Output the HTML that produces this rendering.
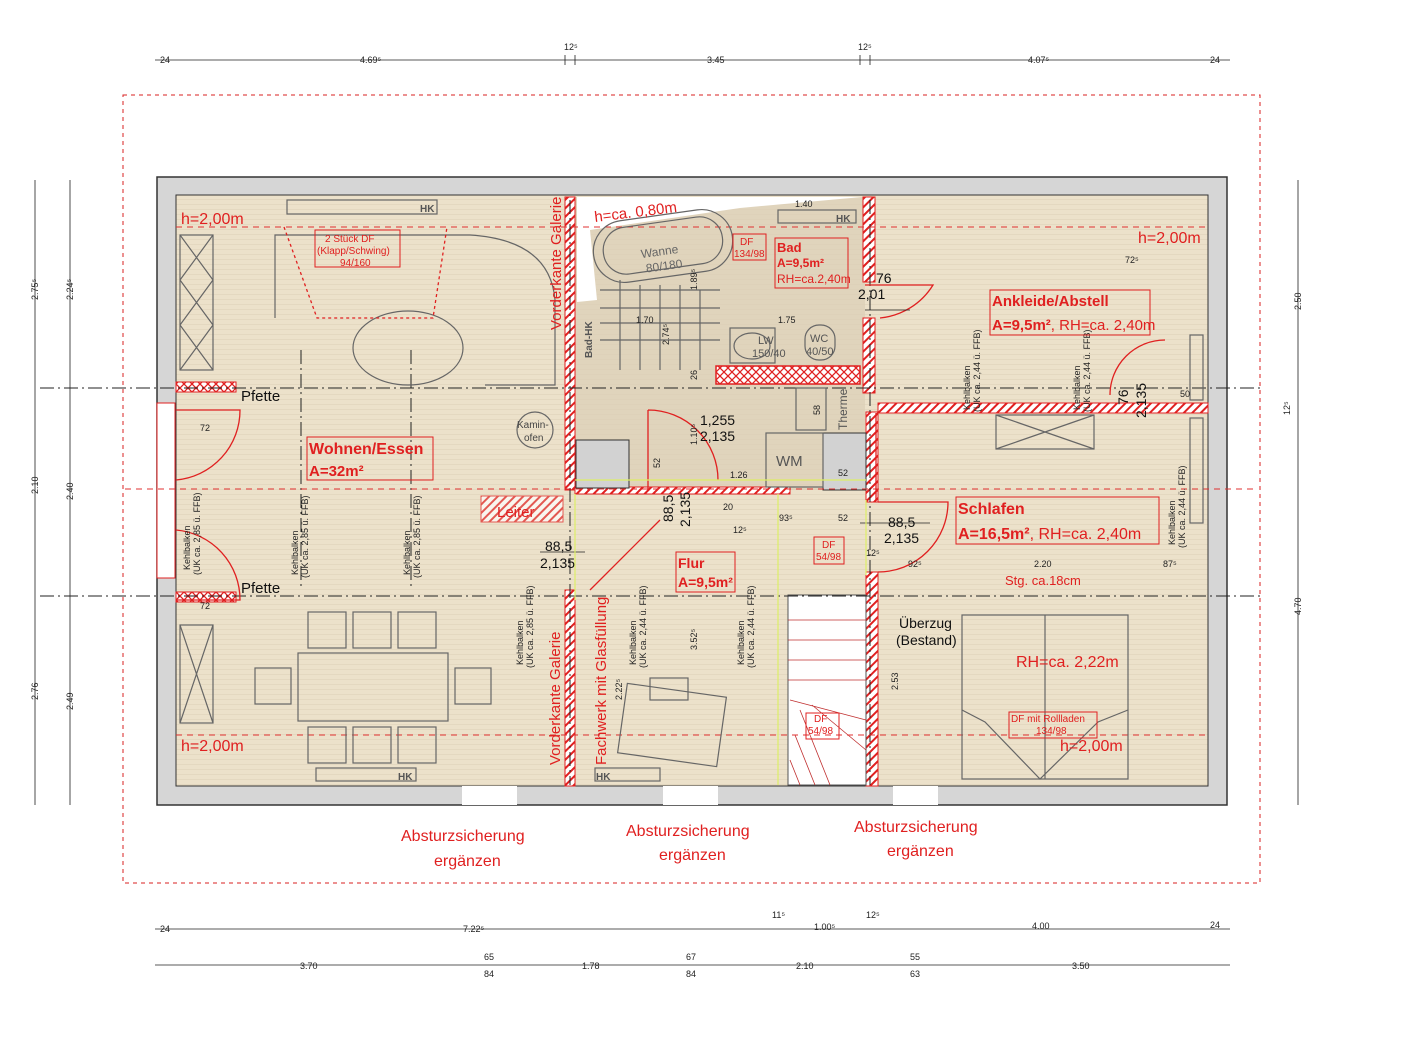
<!DOCTYPE html>
<html><head><meta charset="utf-8"><style>
html,body{margin:0;padding:0;background:#fff}
svg{display:block}
text{font-family:"Liberation Sans",sans-serif}
</style></head><body>
<svg width="1423" height="1041" viewBox="0 0 1423 1041" xmlns="http://www.w3.org/2000/svg">
<defs>
<pattern id="st" width="8" height="5" patternUnits="userSpaceOnUse"><rect width="8" height="5" fill="#ece1ca"/><rect y="4" width="8" height="1" fill="#e4d8c0"/></pattern>
<pattern id="h" width="6" height="6" patternUnits="userSpaceOnUse" patternTransform="rotate(45)"><rect width="6" height="6" fill="#fff"/><rect width="2" height="6" fill="#e02020"/></pattern>
<pattern id="x" width="8" height="8" patternUnits="userSpaceOnUse"><rect width="8" height="8" fill="#fff"/><path d="M0 0L8 8M8 0L0 8" stroke="#e02020" stroke-width="1.3"/></pattern>
</defs>
<rect x="123" y="95" width="1137" height="788" fill="none" stroke="#d82020" stroke-dasharray="4,4"/>
<rect x="157" y="177" width="1070" height="628" fill="#d6d6d6" stroke="#333" stroke-width="1.5"/>
<rect x="176" y="195" width="1032" height="591" fill="url(#st)" stroke="#333"/>
<rect x="575" y="197" width="290" height="293" fill="#dccfb6" opacity="0.7"/>
<rect x="462" y="786" width="55" height="19" fill="#fff"/><rect x="663" y="786" width="55" height="19" fill="#fff"/><rect x="893" y="786" width="45" height="19" fill="#fff"/>
<polygon points="577,197 862,197 740,208 590,230 597,300 577,302" fill="#fff"/>
<rect x="565" y="197" width="10" height="293" fill="url(#h)" stroke="#e02020"/>
<rect x="565" y="590" width="10" height="196" fill="url(#h)" stroke="#e02020"/>
<rect x="863" y="197" width="12" height="85" fill="url(#h)" stroke="#e02020"/>
<rect x="863" y="318" width="12" height="75" fill="url(#h)" stroke="#e02020"/>
<rect x="866" y="412" width="12" height="90" fill="url(#h)" stroke="#e02020"/>
<rect x="866" y="572" width="12" height="214" fill="url(#h)" stroke="#e02020"/>
<rect x="878" y="403" width="330" height="10" fill="url(#h)" stroke="#e02020"/>
<rect x="575" y="487" width="215" height="7" fill="url(#h)" stroke="#e02020"/>
<rect x="716" y="366" width="144" height="18" fill="url(#x)" stroke="#e02020" stroke-width="1.5"/>
<rect x="176" y="382" width="60" height="10" fill="url(#x)" stroke="#e02020"/>
<rect x="176" y="592" width="60" height="10" fill="url(#x)" stroke="#e02020"/>
<rect x="157" y="403" width="18" height="175" fill="#fff" stroke="#e02020"/>
<rect x="481" y="496" width="82" height="26" fill="url(#h)" stroke="#e02020" opacity="0.7"/>
<rect x="576" y="440" width="53" height="48" fill="#d2d2d2" stroke="#333"/>
<rect x="823" y="433" width="43" height="57" fill="#d2d2d2" stroke="#333"/>
<rect x="788" y="595" width="78" height="190" fill="#fff" stroke="#555"/>
<g stroke="#c03030" stroke-width="0.8" fill="none">
<path d="M788 620H866M788 640H866M788 660H866M788 680H866M790 700L866 720M800 710L830 785M812 705L866 750M795 735L815 785M790 760L800 785"/>
</g>
<g stroke="#222" stroke-dasharray="14,4,2,4" stroke-width="1">
<path d="M40 388H1260M40 596H1260"/>
<path d="M570 200V785M870 200V785M411 350V590M301 350V590"/>
</g>
<g stroke="#e03030" stroke-dasharray="6,5" fill="none" stroke-width="1">
<path d="M176 227H1208M176 735H1208M125 489H1258"/>
</g>
<g stroke="#666" fill="none" stroke-width="1.2">
<rect x="180" y="235" width="33" height="135"/><path d="M180 235L213 280M213 235L180 280M180 280L213 325M213 280L180 325M180 325L213 370M213 325L180 370"/>
<rect x="180" y="625" width="33" height="98"/><path d="M180 625L213 723M213 625L180 723"/>
<rect x="287" y="200" width="150" height="14"/><rect x="316" y="768" width="100" height="13"/><rect x="778" y="210" width="78" height="13"/><rect x="595" y="768" width="65" height="13"/>
<ellipse cx="408" cy="348" rx="55" ry="37"/>
<path d="M275 318V235H470Q550 240 555 300V385H485"/>
<rect x="298" y="653" width="150" height="68"/>
<rect x="308" y="612" width="38" height="36"/><rect x="353" y="612" width="38" height="36"/><rect x="398" y="612" width="38" height="36"/>
<rect x="308" y="727" width="38" height="36"/><rect x="353" y="727" width="38" height="36"/><rect x="398" y="727" width="38" height="36"/>
<rect x="255" y="668" width="36" height="36"/><rect x="455" y="668" width="36" height="36"/>
<circle cx="535" cy="430" r="18"/>
<rect x="593" y="215" width="140" height="62" rx="31" transform="rotate(-8 663 246)"/>
<rect x="603" y="222" width="120" height="47" rx="23" transform="rotate(-8 663 246)"/>
<path d="M600 290H720M600 308H720M600 323H720M600 340H720M620 280V370M640 285V370M660 285V370M680 285V370M700 290V370"/>
<rect x="730" y="328" width="45" height="35"/><ellipse cx="752" cy="346" rx="18" ry="13"/>
<rect x="805" y="325" width="30" height="35" rx="14"/>
<rect x="796" y="388" width="30" height="42"/>
<rect x="766" y="433" width="57" height="54"/>
<rect x="996" y="415" width="98" height="34"/><path d="M996 415L1094 449M1094 415L996 449"/>
<rect x="962" y="615" width="166" height="164"/><path d="M962 710L985 722L1040 779L1098 722L1128 710M1045 615V779"/>
<rect x="622" y="690" width="100" height="70" transform="rotate(8 672 725)"/>
<rect x="650" y="678" width="38" height="22"/>
<rect x="1190" y="335" width="13" height="65"/><rect x="1190" y="418" width="13" height="105"/>
</g>
<g stroke="#e02020" fill="none" stroke-width="1.3">
<path d="M865 285L933 285A70 70 0 0 1 880 318M876 413L876 500"/>
<path d="M1165 340A55 55 0 0 0 1110 395"/>
<path d="M878 502H948A70 70 0 0 1 878 572"/>
<path d="M648 410V490M648 410A70 70 0 0 1 718 480"/>
<path d="M590 590L660 520"/>
<path d="M176 410H240A70 70 0 0 1 176 480"/><path d="M176 600H240A70 70 0 0 0 176 530"/>
<path d="M284 227L317 318H433L447 227"  stroke-dasharray="3,3"/>
</g>
<g stroke="#222" stroke-width="0.8">
<path d="M155 60H1230M155 929H1230M155 965H1230M35 180V805M70 180V805M1298 180V805"/>
<path d="M565 55V65M575 55V65M860 55V65M870 55V65"/>
<path d="M865 310H910M860 523H930M540 552H585"/>
</g>
<g font-size="9" fill="#222">
<text x="160" y="63">24</text><text x="360" y="63">4.69⁵</text><text x="564" y="50">12⁵</text><text x="707" y="63">3.45</text><text x="858" y="50">12⁵</text><text x="1028" y="63">4.07⁵</text><text x="1210" y="63">24</text>
<text x="160" y="932">24</text><text x="463" y="932">7.22⁵</text><text x="772" y="918">11⁵</text><text x="814" y="930">1.00⁵</text><text x="866" y="918">12⁵</text><text x="1032" y="929">4.00</text><text x="1210" y="928">24</text>
<text x="300" y="969">3.70</text><text x="484" y="960">65</text><text x="484" y="977">84</text><text x="582" y="969">1.78</text><text x="686" y="960">67</text><text x="686" y="977">84</text><text x="796" y="969">2.10</text><text x="910" y="960">55</text><text x="910" y="977">63</text><text x="1072" y="969">3.50</text>
<text x="1125" y="263">72⁵</text><text x="795" y="207">1.40</text><text x="636" y="323">1.70</text><text x="778" y="323">1.75</text><text x="730" y="478">1.26</text><text x="838" y="476">52</text>
<text x="723" y="510">20</text><text x="733" y="533">12⁵</text><text x="779" y="521">93⁵</text><text x="838" y="521">52</text><text x="866" y="556">12⁵</text><text x="908" y="567">92⁵</text><text x="1034" y="567">2.20</text><text x="1163" y="567">87⁵</text>
<text x="200" y="431">72</text><text x="200" y="609">72</text><text x="1180" y="397">50</text>
</g>
<g font-size="9" fill="#222">
<text transform="translate(38 494) rotate(-90)">2.10</text><text transform="translate(38 300) rotate(-90)">2.75⁵</text><text transform="translate(38 700) rotate(-90)">2.76</text>
<text transform="translate(73 500) rotate(-90)">2.40</text><text transform="translate(73 300) rotate(-90)">2.24⁵</text><text transform="translate(73 710) rotate(-90)">2.49</text>
<text transform="translate(1301 310) rotate(-90)">2.50</text><text transform="translate(1301 615) rotate(-90)">4.70</text><text transform="translate(1290 415) rotate(-90)">12⁵</text>
<text transform="translate(697 290) rotate(-90)">1.89⁵</text><text transform="translate(669 345) rotate(-90)">2.74⁵</text><text transform="translate(697 380) rotate(-90)">26</text><text transform="translate(697 445) rotate(-90)">1.10⁵</text><text transform="translate(697 650) rotate(-90)">3.52⁵</text><text transform="translate(898 690) rotate(-90)">2.53</text><text transform="translate(622 700) rotate(-90)">2.22⁵</text>
<text transform="translate(820 415) rotate(-90)">58</text><text transform="translate(660 468) rotate(-90)">52</text>
<text transform="translate(190 570) rotate(-90)">Kehlbalken</text><text transform="translate(200 575) rotate(-90)">(UK ca. 2,85 ü. FFB)</text>
<text transform="translate(298 575) rotate(-90)">Kehlbalken</text><text transform="translate(308 578) rotate(-90)">(UK ca. 2,85 ü. FFB)</text>
<text transform="translate(410 575) rotate(-90)">Kehlbalken</text><text transform="translate(420 578) rotate(-90)">(UK ca. 2,85 ü. FFB)</text>
<text transform="translate(523 665) rotate(-90)">Kehlbalken</text><text transform="translate(533 668) rotate(-90)">(UK ca. 2,85 ü. FFB)</text>
<text transform="translate(636 665) rotate(-90)">Kehlbalken</text><text transform="translate(646 668) rotate(-90)">(UK ca. 2,44 ü. FFB)</text>
<text transform="translate(744 665) rotate(-90)">Kehlbalken</text><text transform="translate(754 668) rotate(-90)">(UK ca. 2,44 ü. FFB)</text>
<text transform="translate(970 410) rotate(-90)">Kehlbalken</text><text transform="translate(980 412) rotate(-90)">(UK ca. 2,44 ü. FFB)</text>
<text transform="translate(1080 410) rotate(-90)">Kehlbalken</text><text transform="translate(1090 412) rotate(-90)">(UK ca. 2,44 ü. FFB)</text>
<text transform="translate(1175 545) rotate(-90)">Kehlbalken</text><text transform="translate(1185 548) rotate(-90)">(UK ca. 2,44 ü. FFB)</text>
</g>
<g font-size="14" fill="#111">
<text x="876" y="283">76</text><text x="858" y="299">2,01</text>
<text x="700" y="425">1,255</text><text x="700" y="441">2,135</text>
<text x="545" y="551">88,5</text><text x="540" y="568">2,135</text>
<text x="888" y="527">88,5</text><text x="884" y="543">2,135</text>
<text transform="translate(673 522) rotate(-90)">88,5</text><text transform="translate(690 527) rotate(-90)">2,135</text>
<text transform="translate(1128 405) rotate(-90)">76</text><text transform="translate(1146 418) rotate(-90)">2,135</text>
<text x="241" y="401" font-size="15">Pfette</text><text x="241" y="593" font-size="15">Pfette</text>
<text x="899" y="628" font-size="14">Überzug</text><text x="896" y="645" font-size="14">(Bestand)</text>
<text x="776" y="466" font-size="15" fill="#555">WM</text>
<text x="640" y="255" font-size="12" fill="#666" transform="rotate(-8 663 246)">Wanne</text><text x="643" y="270" font-size="12" fill="#666" transform="rotate(-8 663 246)">80/180</text>
<text x="517" y="428" font-size="10" fill="#444">Kamin-</text><text x="524" y="441" font-size="10" fill="#444">ofen</text>
</g>
<g fill="#e02020">
<text x="181" y="224" font-size="16">h=2,00m</text><text x="1138" y="243" font-size="16">h=2,00m</text><text x="181" y="751" font-size="16">h=2,00m</text><text x="1060" y="751" font-size="16">h=2,00m</text>
<rect x="307" y="437" width="126" height="43" fill="none" stroke="#e02020"/>
<text x="309" y="454" font-size="16" font-weight="bold">Wohnen/Essen</text><text x="309" y="476" font-size="15" font-weight="bold">A=32m²</text>
<rect x="775" y="238" width="73" height="50" fill="none" stroke="#e02020"/>
<text x="777" y="252" font-size="13" font-weight="bold">Bad</text><text x="777" y="267" font-size="12" font-weight="bold">A=9,5m²</text><text x="777" y="283" font-size="12">RH=ca.2,40m</text>
<rect x="990" y="290" width="160" height="45" fill="none" stroke="#e02020"/>
<text x="992" y="306" font-size="15" font-weight="bold">Ankleide/Abstell</text><text x="992" y="330" font-size="15"><tspan font-weight="bold">A=9,5m²</tspan>, RH=ca. 2,40m</text>
<rect x="956" y="497" width="203" height="47" fill="none" stroke="#e02020"/>
<text x="958" y="514" font-size="16" font-weight="bold">Schlafen</text><text x="958" y="539" font-size="16"><tspan font-weight="bold">A=16,5m²</tspan>, RH=ca. 2,40m</text>
<rect x="676" y="552" width="59" height="40" fill="none" stroke="#e02020"/>
<text x="678" y="568" font-size="14" font-weight="bold">Flur</text><text x="678" y="587" font-size="14" font-weight="bold">A=9,5m²</text>
<text x="1016" y="667" font-size="16">RH=ca. 2,22m</text>
<text x="1005" y="585" font-size="13">Stg. ca.18cm</text>
<text x="497" y="517" font-size="15">Leiter</text>
<text x="595" y="222" font-size="15" transform="rotate(-7 595 222)">h=ca. 0,80m</text>
<text transform="translate(561 330) rotate(-90)" font-size="15">Vorderkante Galerie</text>
<text transform="translate(560 765) rotate(-90)" font-size="15">Vorderkante Galerie</text>
<text transform="translate(606 765) rotate(-90)" font-size="15">Fachwerk mit Glasfüllung</text>
<text x="401" y="841" font-size="16">Absturzsicherung</text><text x="434" y="866" font-size="16">ergänzen</text>
<text x="626" y="836" font-size="16">Absturzsicherung</text><text x="659" y="860" font-size="16">ergänzen</text>
<text x="854" y="832" font-size="16">Absturzsicherung</text><text x="887" y="856" font-size="16">ergänzen</text>
<rect x="315" y="230" width="85" height="37" fill="none" stroke="#e02020"/>
<text x="325" y="242" font-size="10">2 Stück DF</text><text x="317" y="254" font-size="10">(Klapp/Schwing)</text><text x="340" y="266" font-size="10">94/160</text>
<rect x="733" y="234" width="33" height="26" fill="none" stroke="#e02020"/><text x="740" y="245" font-size="10">DF</text><text x="734" y="257" font-size="10">134/98</text>
<rect x="814" y="537" width="30" height="27" fill="none" stroke="#e02020"/><text x="822" y="548" font-size="10">DF</text><text x="816" y="560" font-size="10">54/98</text>
<rect x="806" y="713" width="33" height="26" fill="none" stroke="#e02020"/><text x="814" y="722" font-size="10">DF</text><text x="808" y="734" font-size="10">54/98</text>
<rect x="1009" y="712" width="88" height="26" fill="none" stroke="#e02020"/><text x="1011" y="722" font-size="10">DF mit Rollladen</text><text x="1036" y="734" font-size="10">134/98</text>
</g>
<g font-size="10" fill="#555" font-weight="bold"><text x="420" y="212">HK</text><text x="398" y="780">HK</text><text x="836" y="222">HK</text><text x="596" y="780">HK</text>
<text transform="translate(592 358) rotate(-90)">Bad-HK</text></g>
<g font-size="11" fill="#555"><text x="758" y="344">LW</text><text x="752" y="357">150/40</text><text x="810" y="342">WC</text><text x="806" y="355">40/50</text>
<text transform="translate(847 430) rotate(-90)" font-size="12">Therme</text></g>
<g stroke="#ddee66" fill="none" stroke-width="1.2"><path d="M575 480H866M778 494V785M575 494V600M866 500V575"/></g>
</svg>
</body></html>
